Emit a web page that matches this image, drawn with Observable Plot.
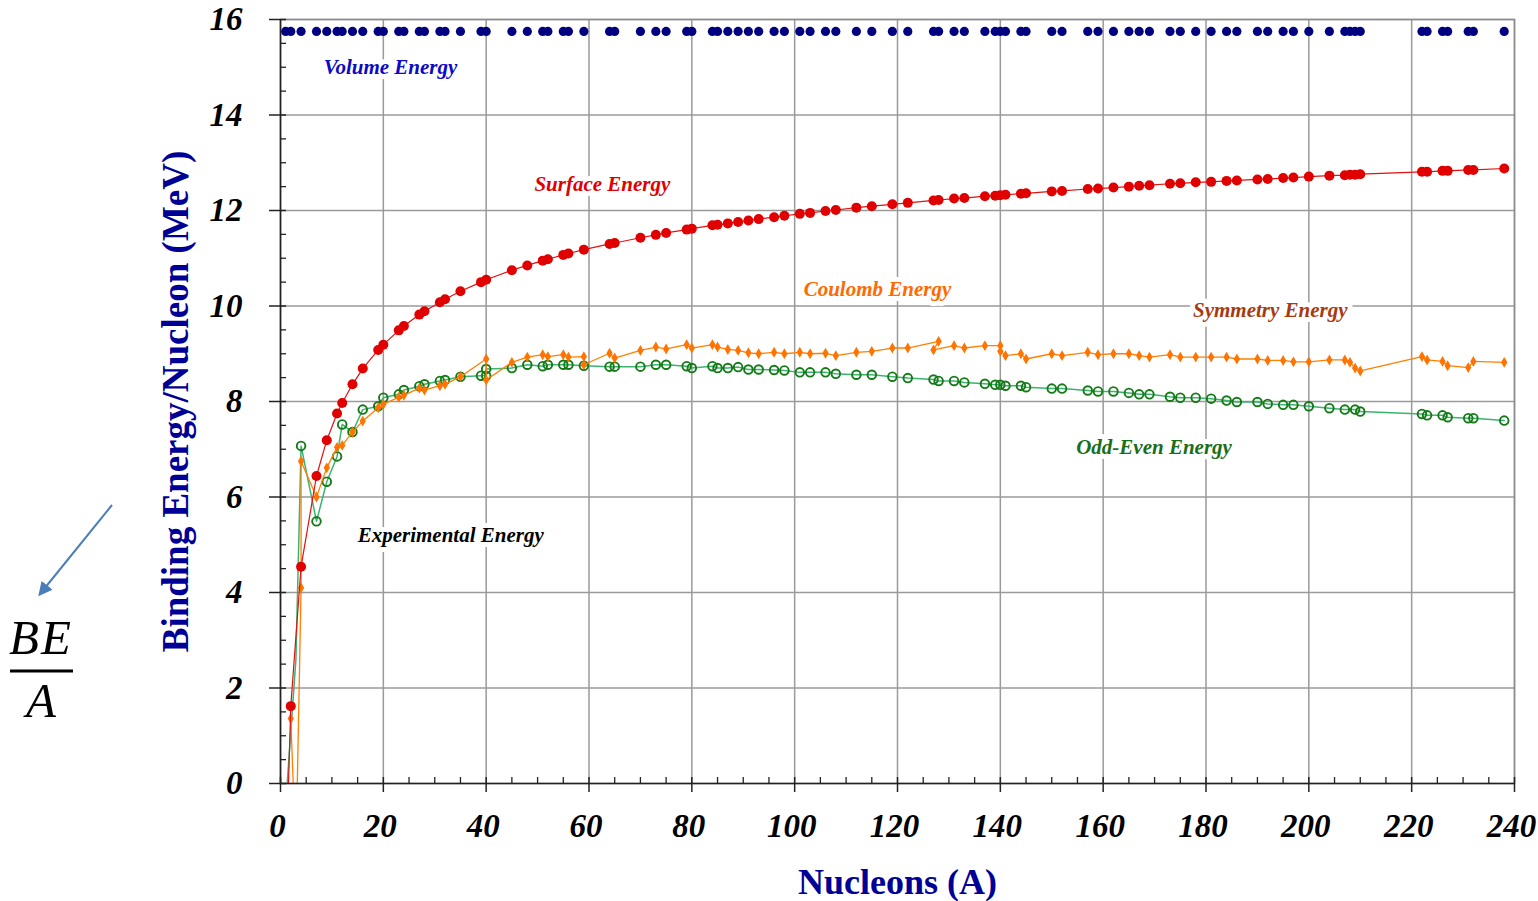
<!DOCTYPE html>
<html>
<head>
<meta charset="utf-8">
<script src="https://cdn.jsdelivr.net/npm/d3@7"></script>
<script src="https://cdn.jsdelivr.net/npm/@observablehq/plot@0.6"></script>
<style>
  html, body { margin: 0; padding: 0; background: #fff; }
  #chart { width: 1538px; height: 901px; }
</style>
</head>
<body>
<div id="chart"></div>
<script>
// ---------- data ----------
const nucleons = [1,2,4,7,9,11,12,14,16,19,20,23,24,27,28,31,32,35,39,40,45,48,51,52,55,56,59,64,65,70,73,75,79,80,84,85,87,89,91,93,96,98,101,103,106,108,112,115,119,122,127,128,131,133,137,139,140,141,144,145,150,152,157,159,162,165,167,169,173,175,178,181,184,186,190,192,195,197,200,204,207,208,209,210,222,223,226,227,231,232,238];

const volumeEnergy = [
  15.75,15.75,15.75,15.75,15.75,15.75,15.75,15.75,15.75,15.75,
  15.75,15.75,15.75,15.75,15.75,15.75,15.75,15.75,15.75,15.75,
  15.75,15.75,15.75,15.75,15.75,15.75,15.75,15.75,15.75,15.75,
  15.75,15.75,15.75,15.75,15.75,15.75,15.75,15.75,15.75,15.75,
  15.75,15.75,15.75,15.75,15.75,15.75,15.75,15.75,15.75,15.75,
  15.75,15.75,15.75,15.75,15.75,15.75,15.75,15.75,15.75,15.75,
  15.75,15.75,15.75,15.75,15.75,15.75,15.75,15.75,15.75,15.75,
  15.75,15.75,15.75,15.75,15.75,15.75,15.75,15.75,15.75,15.75,
  15.75,15.75,15.75,15.75,15.75,15.75,15.75,15.75,15.75,15.75,
  15.75];

const surfaceEnergy = [
  -2.05,1.62,4.54,6.44,7.19,7.75,7.97,8.36,8.69,9.08,
  9.19,9.49,9.58,9.82,9.89,10.08,10.14,10.31,10.50,10.55,
  10.75,10.85,10.95,10.98,11.07,11.10,11.18,11.30,11.32,11.43,
  11.49,11.53,11.60,11.62,11.69,11.70,11.73,11.76,11.79,11.82,
  11.86,11.89,11.93,11.95,11.99,12.01,12.06,12.09,12.13,12.16,
  12.21,12.22,12.25,12.26,12.30,12.31,12.32,12.33,12.35,12.36,
  12.40,12.41,12.45,12.46,12.48,12.50,12.52,12.53,12.56,12.57,
  12.59,12.60,12.62,12.63,12.65,12.66,12.68,12.69,12.71,12.73,
  12.74,12.75,12.75,12.76,12.81,12.81,12.83,12.83,12.85,12.85,
  12.88];

const coulombA = [2,3,4,4,7,9,11,12,14,16,19,20,23,24,27,28,31,32,35,40,40,45,48,51,52,55,56,59,59,64,65,70,73,75,79,80,84,85,87,89,91,93,96,98,101,103,106,108,112,115,119,122,128,127,131,133,137,140,140,141,144,145,150,152,157,159,162,165,167,169,173,175,178,181,184,186,190,192,195,197,200,204,207,208,209,210,222,223,226,227,231,232,238];
const coulombEnergy = [1.36,-1.5,4.1,6.75,6.0,6.61,7.04,7.08,7.36,7.59,7.87,7.94,8.09,8.13,8.28,8.24,8.33,8.36,8.52,8.89,8.45,8.82,8.93,8.98,8.94,8.98,8.93,8.94,8.77,9.01,8.91,9.07,9.14,9.10,9.19,9.12,9.19,9.14,9.09,9.07,9.02,9.00,9.03,9.00,9.03,9.00,9.01,8.96,9.03,9.05,9.12,9.12,9.26,9.08,9.17,9.12,9.17,9.17,9.05,8.96,9.00,8.89,9.00,8.96,9.03,8.98,9.00,9.00,8.96,8.93,8.98,8.93,8.93,8.93,8.93,8.89,8.89,8.86,8.86,8.83,8.83,8.87,8.87,8.82,8.70,8.64,8.94,8.87,8.84,8.75,8.71,8.84,8.82];

const oddEvenA = [1,2,3,4,7,9,11,12,14,16,19,20,23,24,27,28,31,32,35,39,40,40,45,48,51,52,55,56,59,64,65,70,73,75,79,80,84,85,87,89,91,93,96,98,101,103,106,108,112,115,119,122,127,128,131,133,137,139,140,141,144,145,150,152,157,159,162,165,167,169,173,175,178,181,184,186,190,192,195,197,200,204,207,209,210,222,223,226,227,231,232,238];
const oddEvenEnergy = [-0.5,1.1,2.6,7.07,5.49,6.32,6.85,7.52,7.36,7.83,7.90,8.08,8.15,8.24,8.32,8.36,8.43,8.45,8.52,8.54,8.54,8.68,8.70,8.77,8.74,8.77,8.77,8.77,8.75,8.73,8.73,8.73,8.77,8.77,8.74,8.70,8.74,8.70,8.70,8.72,8.67,8.67,8.66,8.65,8.61,8.61,8.61,8.58,8.56,8.56,8.52,8.49,8.46,8.43,8.43,8.40,8.37,8.35,8.35,8.33,8.33,8.30,8.27,8.27,8.23,8.21,8.21,8.18,8.15,8.15,8.10,8.08,8.08,8.06,8.02,7.99,7.99,7.95,7.93,7.93,7.90,7.86,7.83,7.83,7.79,7.74,7.71,7.71,7.67,7.65,7.65,7.60];

const xTicks = [0,20,40,60,80,100,120,140,160,180,200,220,240];
const yTicks = [0,2,4,6,8,10,12,14,16];
const xMinorTicks = [5,10,15,25,30,35,45,50,55,65,70,75,85,90,95,105,110,115,125,130,135,145,150,155,165,170,175,185,190,195,205,210,215,225,230,235];
const yMinorTicks = [0.5,1,1.5,2.5,3,3.5,4.5,5,5.5,6.5,7,7.5,8.5,9,9.5,10.5,11,11.5,12.5,13,13.5,14.5,15,15.5];

const labelNames = ["Volume Energy","Surface Energy","Coulomb Energy","Symmetry Energy","Odd-Even Energy","Experimental Energy"];
const labelA  = [21.4, 62.6, 116.1, 192.5, 169.9, 33.1];
const labelBE = [15.0, 12.54, 10.36, 9.92, 7.04, 5.19];
const labelColors = ["#0a0ac8","#e00000","#ff6a00","#a83a10","#1a6e1a","#000000"];

// ---------- tables ----------
const volume = nucleons.map((A, i) => ({A, BE: volumeEnergy[i]}));
const surface = nucleons.map((A, i) => ({A, BE: surfaceEnergy[i]}));
const coulomb = coulombA.map((A, i) => ({A, BE: coulombEnergy[i]}));
const oddEven = oddEvenA.map((A, i) => ({A, BE: oddEvenEnergy[i]}));
const labels = labelNames.map((name, i) => ({name, A: labelA[i], BE: labelBE[i], color: labelColors[i]}));

const W = 1538, H = 901, mL = 280, mR = 24, mT = 19, mB = 118;
const fw = W - mL - mR, fh = H - mT - mB;
const serif = "Liberation Serif, Times New Roman, serif";
const tickFont = {fontFamily: serif, fontSize: 33, fontWeight: "bold", fontStyle: "italic", fill: "#000", lineAnchor: "middle"};

const svg = Plot.plot({
  width: W, height: H,
  marginLeft: mL, marginRight: mR, marginTop: mT, marginBottom: mB,
  style: {fontFamily: serif, background: "#fff", overflow: "visible"},
  x: {domain: [0, 240], axis: null},
  y: {domain: [0, 16], axis: null},
  marks: [
    Plot.ruleX(xTicks.slice(1), {x: d => d, stroke: "#9a9a9a", strokeWidth: 1.5}),
    Plot.ruleY(yTicks.slice(1), {y: d => d, stroke: "#9a9a9a", strokeWidth: 1.5}),
    Plot.frame({stroke: "#8a8a8a", strokeWidth: 1.5}),
    Plot.text(labels, {x: "A", y: "BE", text: "name", fill: "color", stroke: "#fff", strokeWidth: 10,
      fontFamily: serif, fontSize: 21, fontWeight: "bold", fontStyle: "italic"}),
    Plot.line(oddEven, {x: "A", y: "BE", stroke: "#3cb371", strokeWidth: 1.5, clip: true}),
    Plot.dot(oddEven.filter(d => d.A >= 4), {x: "A", y: "BE", r: 4.3, stroke: "#137a16", strokeWidth: 1.9, fill: "none"}),
    Plot.line(coulomb, {x: "A", y: "BE", stroke: "#ff7f00", strokeWidth: 1.3, clip: true}),
    Plot.dot(coulomb, {x: "A", y: "BE", r: 3.3, symbol: "diamond", fill: "#ff7400", clip: true}),
    Plot.line(surface, {x: "A", y: "BE", stroke: "#e31010", strokeWidth: 1.2, clip: true}),
    Plot.dot(surface, {x: "A", y: "BE", r: 5, fill: "#e00000", clip: true}),
    Plot.dot(volume, {x: "A", y: "BE", r: 4.6, fill: "#000080"}),
    Plot.ruleX([0], {x: d => d, stroke: "#222", strokeWidth: 1.6}),
    Plot.ruleY([0], {y: d => d, stroke: "#222", strokeWidth: 1.6}),
    Plot.tickY(yTicks, {y: d => d, stroke: "#222", strokeWidth: 1.5, insetLeft: -11, insetRight: fw - 6}),
    Plot.tickY(yMinorTicks, {y: d => d, stroke: "#222", strokeWidth: 1.3, insetRight: fw - 6}),
    Plot.tickX(xTicks, {x: d => d, stroke: "#222", strokeWidth: 1.5, insetTop: fh - 6, insetBottom: -9}),
    Plot.tickX(xMinorTicks, {x: d => d, stroke: "#222", strokeWidth: 1.3, insetTop: fh - 6}),
    Plot.text(xTicks, {x: d => d, text: d => String(d), frameAnchor: "bottom", dy: 43, dx: -3, ...tickFont}),
    Plot.text(yTicks, {y: d => d, text: d => String(d), frameAnchor: "left", dx: -38, textAnchor: "end", ...tickFont}),
    Plot.text(["Binding Energy/Nucleon (MeV)"], {text: d => d, frameAnchor: "left", dx: -104, rotate: -90,
      textAnchor: "middle", lineAnchor: "middle",
      fontFamily: serif, fontSize: 37, fontWeight: "bold", fill: "#000096"}),
    Plot.text(["Nucleons (A)"], {text: d => d, frameAnchor: "bottom", dy: 99, lineAnchor: "middle",
      fontFamily: serif, fontSize: 36, fontWeight: "bold", fill: "#000096"})
  ]
});

// ---------- side annotation: arrow and BE/A ----------
const s = d3.select(svg);
const defs = s.append("defs");
defs.append("marker").attr("id", "arrowhead").attr("viewBox", "0 0 10 10")
  .attr("refX", 8).attr("refY", 5).attr("markerWidth", 7).attr("markerHeight", 7)
  .attr("orient", "auto-start-reverse")
  .append("path").attr("d", "M0,0 L10,5 L0,10 z").attr("fill", "#4a7ebb");
const ann = s.append("g");
ann.append("line").attr("x1", 112).attr("y1", 505).attr("x2", 40).attr("y2", 594)
  .attr("stroke", "#4a7ebb").attr("stroke-width", 2).attr("marker-end", "url(#arrowhead)");
ann.append("text").attr("x", 41).attr("y", 654).attr("text-anchor", "middle")
  .attr("font-family", serif).attr("font-style", "italic").attr("font-size", 49)
  .attr("letter-spacing", 2).attr("fill", "#000").text("BE");
ann.append("line").attr("x1", 10).attr("x2", 73).attr("y1", 671).attr("y2", 671)
  .attr("stroke", "#000").attr("stroke-width", 3);
ann.append("text").attr("x", 41).attr("y", 717).attr("text-anchor", "middle")
  .attr("font-family", serif).attr("font-style", "italic").attr("font-size", 49)
  .attr("fill", "#000").text("A");

document.getElementById("chart").appendChild(svg);
</script>
</body>
</html>
